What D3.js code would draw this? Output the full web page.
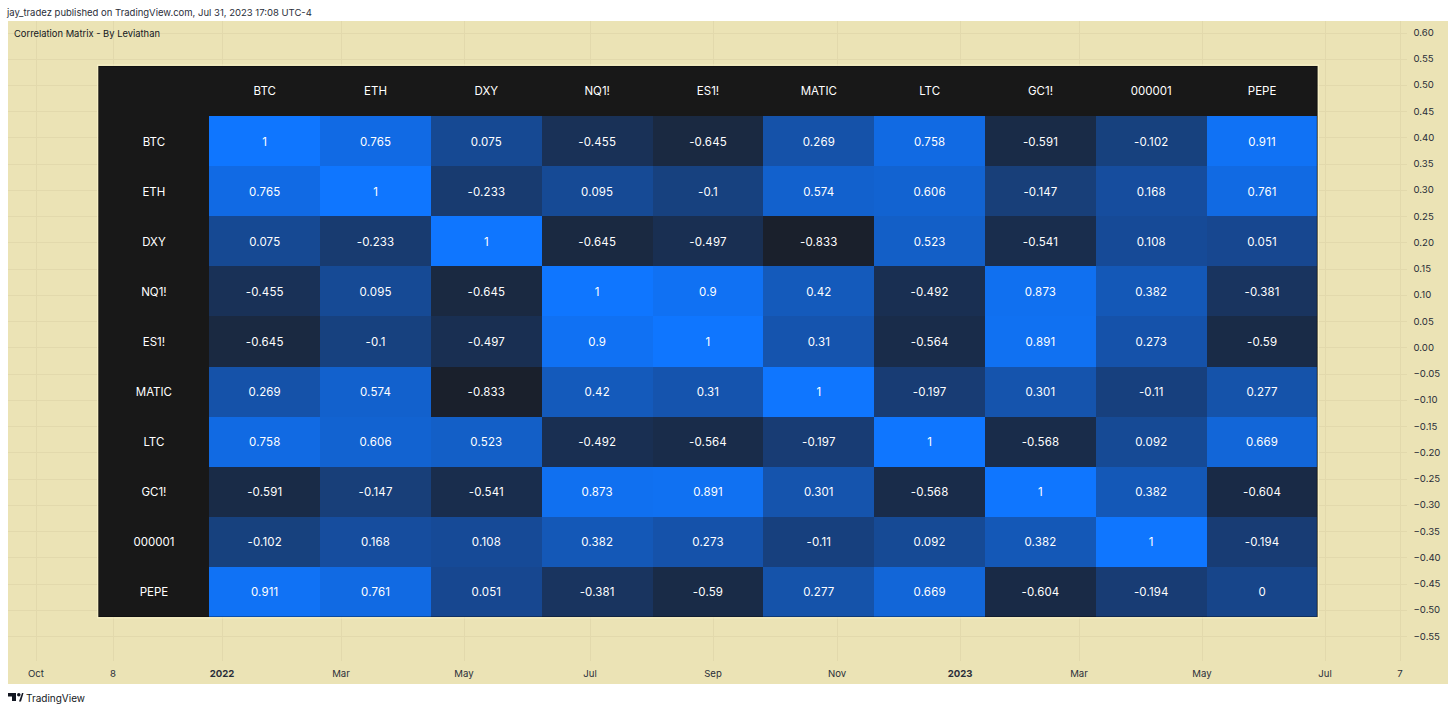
<!DOCTYPE html>
<html><head><meta charset="utf-8">
<script src="https://cdn.jsdelivr.net/npm/d3@7/dist/d3.min.js"></script>
<style>
html,body{margin:0;padding:0;background:#fff;overflow:hidden}
svg{display:block}
text{font-family:Inter,Roboto,"Liberation Sans",sans-serif}
</style></head><body><div id="chart"></div>
<script>
const symbols = ["BTC","ETH","DXY","NQ1!","ES1!","MATIC","LTC","GC1!","000001","PEPE"];
const matrix = [
 [1,0.765,0.075,-0.455,-0.645,0.269,0.758,-0.591,-0.102,0.911],
 [0.765,1,-0.233,0.095,-0.1,0.574,0.606,-0.147,0.168,0.761],
 [0.075,-0.233,1,-0.645,-0.497,-0.833,0.523,-0.541,0.108,0.051],
 [-0.455,0.095,-0.645,1,0.9,0.42,-0.492,0.873,0.382,-0.381],
 [-0.645,-0.1,-0.497,0.9,1,0.31,-0.564,0.891,0.273,-0.59],
 [0.269,0.574,-0.833,0.42,0.31,1,-0.197,0.301,-0.11,0.277],
 [0.758,0.606,0.523,-0.492,-0.564,-0.197,1,-0.568,0.092,0.669],
 [-0.591,-0.147,-0.541,0.873,0.891,0.301,-0.568,1,0.382,-0.604],
 [-0.102,0.168,0.108,0.382,0.273,-0.11,0.092,0.382,1,-0.194],
 [0.911,0.761,0.051,-0.381,-0.59,0.277,0.669,-0.604,-0.194,0]
];
const yTicks = [0.6,0.55,0.5,0.45,0.4,0.35,0.3,0.25,0.2,0.15,0.1,0.05,0,-0.05,-0.1,-0.15,-0.2,-0.25,-0.3,-0.35,-0.4,-0.45,-0.5,-0.55];
const xTickLabels = ["Oct","8","2022","Mar","May","Jul","Sep","Nov","2023","Mar","May","Jul","7"];
const xTickBold = ["2022","2023"];
const xTickDays = [0,77,186,305,428,554,677,801,924,1043,1166,1289,1364];
const headerLine = "jay_tradez published on TradingView.com, Jul 31, 2023 17:08 UTC-4";
const chartTitle = "Correlation Matrix - By Leviathan";

const W=1456,H=711;
const svg=d3.select("#chart").append("svg").attr("width",W).attr("height",H);
svg.append("rect").attr("width",W).attr("height",H).attr("fill","#fff");
svg.append("rect").attr("x",8).attr("y",21).attr("width",1440).attr("height",663).attr("fill","#ebe3b5");

const y=d3.scaleLinear().domain([0.6,-0.55]).range([32.5,636]);
const x=d3.scaleLinear().domain([0,1364]).range([36,1400]);
const grid=svg.append("g").attr("stroke","#e2d9ac").attr("stroke-width",1);
grid.selectAll("line.h").data(yTicks).join("line").attr("class","h")
 .attr("x1",8).attr("x2",1407).attr("y1",d=>Math.round(y(d))+.5).attr("y2",d=>Math.round(y(d))+.5);
grid.selectAll("line.v").data(xTickDays).join("line").attr("class","v")
 .attr("x1",d=>Math.round(x(d))+.5).attr("x2",d=>Math.round(x(d))+.5).attr("y1",21).attr("y2",661);

const yAxis=svg.append("g");
yAxis.selectAll("text").data(yTicks).join("text")
 .attr("x",1413.5).attr("y",d=>y(d)).attr("dominant-baseline","central")
 .attr("font-size",9.6).attr("fill","#2a2e39")
 .text(d=>d3.format(".2f")(d).replace("-","\u2212"));

const xAxis=svg.append("g");
xAxis.selectAll("text").data(xTickDays).join("text")
 .attr("x",d=>x(d)).attr("y",673.5).attr("text-anchor","middle").attr("dominant-baseline","central")
 .attr("font-size",9.6).attr("fill","#2a2e39")
 .attr("font-weight",(d,i)=>xTickBold.includes(xTickLabels[i])?700:400)
 .text((d,i)=>xTickLabels[i]);

svg.append("text").attr("x",7).attr("y",12).attr("dominant-baseline","central")
 .attr("font-size",9.5).attr("fill","#2a2e39").text(headerLine);
svg.append("text").attr("x",14).attr("y",33.5).attr("dominant-baseline","central")
 .attr("font-size",9.4).attr("fill","#131722").text(chartTitle);

// table
const tx=d3.scaleBand().domain(["",...symbols]).range([98.5,1317.5]);
const ty=d3.scaleBand().domain(["",...symbols]).range([66,617]);
const color=d3.scaleLinear().domain([-1,0,1]).range(["#1b1919","#17458a","#0f76ff"]);
const table=svg.append("g");
table.append("rect").attr("x",97.5).attr("y",65).attr("width",1221).attr("height",553).attr("fill","none").attr("stroke","#f6efc6").attr("stroke-width",1);
table.append("rect").attr("x",tx.range()[0]).attr("y",ty.range()[0]).attr("width",tx.range()[1]-tx.range()[0]).attr("height",ty.range()[1]-ty.range()[0]).attr("fill","#181818");
const cells=matrix.flatMap((r,i)=>r.map((v,j)=>({v,i,j})));
table.selectAll("rect.c").data(cells).join("rect").attr("class","c")
 .attr("x",d=>Math.round(tx(symbols[d.j]))).attr("y",d=>Math.round(ty(symbols[d.i])))
 .attr("width",d=>Math.round(tx(symbols[d.j])+tx.bandwidth())-Math.round(tx(symbols[d.j])))
 .attr("height",d=>Math.round(ty(symbols[d.i])+ty.bandwidth())-Math.round(ty(symbols[d.i])))
 .attr("shape-rendering","crispEdges")
 .attr("fill",d=>color(d.v));
table.append("rect").attr("x",98.5).attr("y",66.5).attr("width",1218.5).attr("height",550)
 .attr("fill","none").attr("stroke","#000").attr("stroke-opacity",0.3);
const tableFont=11.5, textDy=0.5;
table.selectAll("text.c").data(cells).join("text").attr("class","c")
 .attr("x",d=>tx(symbols[d.j])+tx.bandwidth()/2).attr("y",d=>ty(symbols[d.i])+ty.bandwidth()/2+textDy)
 .attr("text-anchor","middle").attr("dominant-baseline","central")
 .attr("font-size",tableFont).attr("fill","#fff").attr("letter-spacing",0.15).text(d=>String(d.v));
table.selectAll("text.ch").data(symbols).join("text").attr("class","ch")
 .attr("x",d=>tx(d)+tx.bandwidth()/2).attr("y",ty("")+ty.bandwidth()/2)
 .attr("text-anchor","middle").attr("dominant-baseline","central")
 .attr("font-size",tableFont).attr("fill","#fff").text(d=>d);
table.selectAll("text.rh").data(symbols).join("text").attr("class","rh")
 .attr("x",tx("")+tx.bandwidth()/2).attr("y",d=>ty(d)+ty.bandwidth()/2+textDy)
 .attr("text-anchor","middle").attr("dominant-baseline","central")
 .attr("font-size",tableFont).attr("fill","#fff").text(d=>d);

// footer logo
const logo=svg.append("g").attr("transform","translate(8,693)").attr("fill","#131722");
logo.append("path").attr("d","M0 0H8V8H4V3.5H0Z");
logo.append("circle").attr("cx",10.8).attr("cy",1.8).attr("r",1.8);
logo.append("path").attr("d","M11 8.5L14 0H15.5L13 8.5Z");
svg.append("text").attr("x",26).attr("y",698).attr("dominant-baseline","central")
 .attr("font-size",10).attr("fill","#131722").text("TradingView");
</script></body></html>
